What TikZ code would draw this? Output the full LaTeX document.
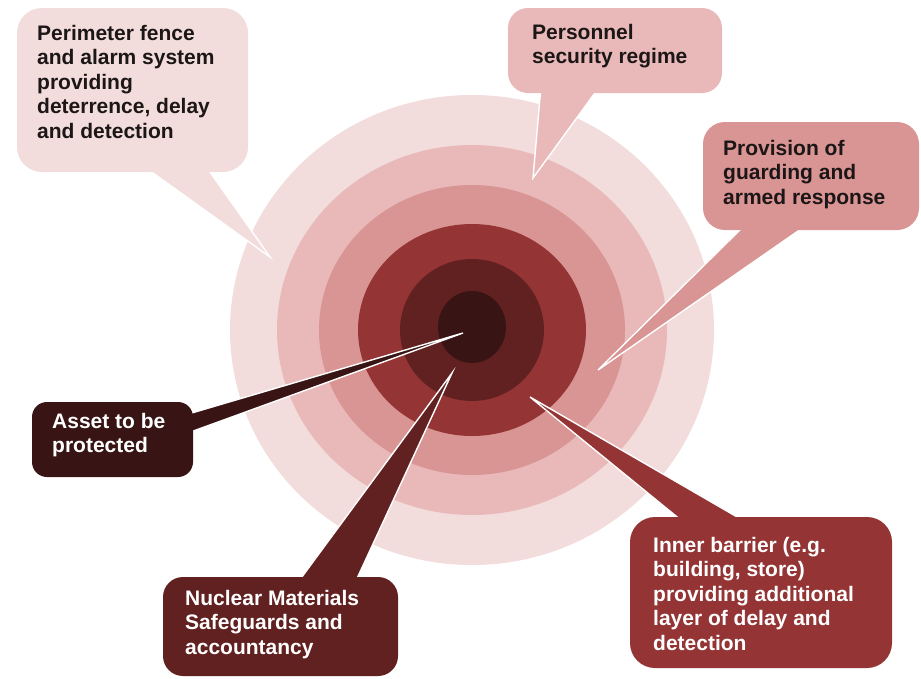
\documentclass[tikz,border=0pt]{standalone}
\usepackage{fontspec}
\setmainfont{Liberation Sans}
\begin{document}
\begin{tikzpicture}[x=1pt,y=-1pt,
  lbl/.style={anchor=north west,inner sep=0pt,align=left,
    font=\fontsize{21}{24.5}\selectfont\bfseries},
  darktxt/.style={lbl,text=txtdark},
  lighttxt/.style={lbl,text=white},
  ptr/.style={draw=white,line width=1.4pt,line join=miter},
]
\definecolor{cA}{HTML}{F2DCDC}
\definecolor{cB}{HTML}{E9B9B9}
\definecolor{cC}{HTML}{D99494}
\definecolor{cD}{HTML}{943434}
\definecolor{cE}{HTML}{622121}
\definecolor{cF}{HTML}{381414}
\definecolor{txtdark}{HTML}{1C1616}
\useasboundingbox (0,0) rectangle (921,678);

% concentric rings
\coordinate (ctr) at (472,330);
\fill[cA] (ctr) ellipse [x radius=242, y radius=235];
\fill[cB] (ctr) ellipse [x radius=195, y radius=185];
\fill[cC] (ctr) ellipse [x radius=153, y radius=145];
\fill[cD] (ctr) ellipse [x radius=114, y radius=106];
\fill[cE] (ctr) ellipse [x radius=72, y radius=71];
\fill[cF] (472,327) ellipse [x radius=34, y radius=36];

% pointer tips
\coordinate (tipPer) at (270,257);
\coordinate (tipPers) at (533,178);
\coordinate (tipProv) at (598,370);
\coordinate (tipAsset) at (463,333);
\coordinate (tipNuc) at (452,373);
\coordinate (tipInner) at (530,397);

% pointers
\filldraw[ptr,fill=cA] (142,165) -- (tipPer) -- (205,165);
\filldraw[ptr,fill=cB] (541,86) -- (tipPers) -- (600,86);
\filldraw[ptr,fill=cC] (748,222) -- (tipProv) -- (811,222);
\filldraw[ptr,fill=cF] (185,415) -- (tipAsset) -- (185,434);
\filldraw[ptr,fill=cE] (296,585) -- (tipNuc) -- (354,585);
\filldraw[ptr,fill=cD] (687,525) -- (tipInner) -- (751,525);

% boxes
\fill[cA,rounded corners=25pt] (17,8) rectangle (248,172);
\fill[cB,rounded corners=20pt] (508,8) rectangle (722,93);
\fill[cC,rounded corners=22pt] (703,122) rectangle (919,230);
\fill[cF,rounded corners=15pt] (32,402) rectangle (193,477);
\fill[cE,rounded corners=20pt] (163,577) rectangle (398,676);
\fill[cD,rounded corners=25pt] (630,517) rectangle (892,668);

% labels
\node[darktxt] (tPer) at (37,25) {Perimeter fence\\and alarm system\\providing\\deterrence, delay\\and detection};
\node[darktxt] (tPers) at (532,24) {Personnel\\security regime};
\node[darktxt] (tProv) at (723,140) {Provision of\\guarding and\\armed response};
\node[lighttxt] (tAsset) at (52,413) {Asset to be\\protected};
\node[lighttxt] (tNuc) at (185,590) {Nuclear Materials\\Safeguards and\\accountancy};
\node[lighttxt] (tInner) at (653,537) {Inner barrier (e.g.\\building, store)\\providing additional\\layer of delay and\\detection};
\end{tikzpicture}
\end{document}
